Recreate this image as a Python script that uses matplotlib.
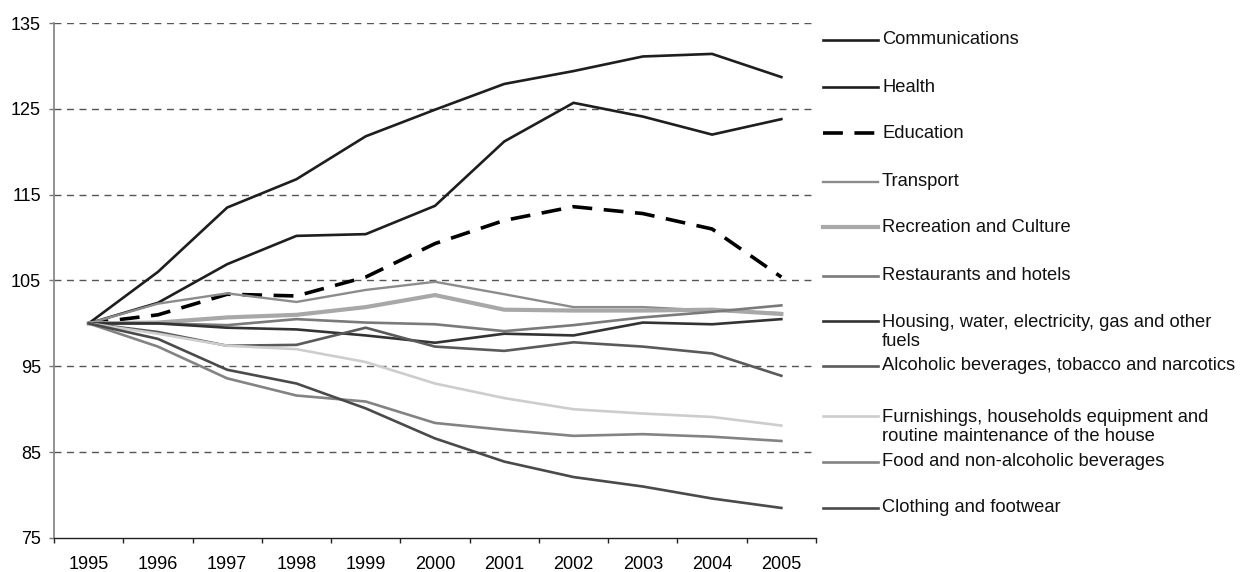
import matplotlib
matplotlib.use("Agg")
import matplotlib.pyplot as plt
from matplotlib.lines import Line2D

plt.rcParams['font.family'] = ['Liberation Sans', 'DejaVu Sans']

years = ['1995', '1996', '1997', '1998', '1999', '2000', '2001', '2002', '2003', '2004', '2005']

communications = [100, 106.0, 113.5, 116.8, 121.8, 124.9, 127.9, 129.4, 131.1, 131.4, 128.7]
health = [100, 102.4, 106.9, 110.2, 110.4, 113.7, 121.2, 125.7, 124.1, 122.0, 123.8]
education = [100, 101.0, 103.4, 103.2, 105.4, 109.3, 112.0, 113.6, 112.8, 111.0, 105.4]
transport = [100, 102.3, 103.5, 102.5, 103.9, 104.85, 103.4, 101.9, 101.9, 101.5, 101.2]
recreation = [100, 100.1, 100.7, 101.0, 101.9, 103.3, 101.6, 101.5, 101.5, 101.6, 101.1]
restaurants = [100, 100.0, 99.8, 100.5, 100.1, 99.9, 99.1, 99.8, 100.7, 101.35, 102.1]
housing = [100, 100.0, 99.5, 99.3, 98.6, 97.75, 98.8, 98.6, 100.1, 99.9, 100.5]
alcoholic = [100, 99.0, 97.4, 97.5, 99.5, 97.3, 96.8, 97.8, 97.3, 96.5, 93.9]
furnishings = [100, 98.8, 97.4, 97.0, 95.5, 93.0, 91.3, 90.0, 89.5, 89.1, 88.1]
food = [100, 97.3, 93.6, 91.6, 90.9, 88.4, 87.6, 86.9, 87.1, 86.8, 86.3]
clothing = [100, 98.2, 94.6, 93.0, 90.1, 86.6, 83.9, 82.1, 81.0, 79.6, 78.5]

labels = ['Communications', 'Health', 'Education', 'Transport', 'Recreation and Culture',
          'Restaurants and hotels', 'Housing, water, electricity, gas and other\nfuels',
          'Alcoholic beverages, tobacco and narcotics',
          'Furnishings, households equipment and\nroutine maintenance of the house',
          'Food and non-alcoholic beverages', 'Clothing and footwear']
series = [communications, health, education, transport, recreation, restaurants,
          housing, alcoholic, furnishings, food, clothing]
yticks = [75, 85, 95, 105, 115, 125, 135]

styles = [
    dict(color='#1e1e1e', lw=1.9),
    dict(color='#1e1e1e', lw=1.9),
    dict(color='#000000', lw=2.6, dashes=(5.5, 3.2)),
    dict(color='#8c8c8c', lw=1.7),
    dict(color='#a8a8a8', lw=3.0),
    dict(color='#7a7a7a', lw=1.9),
    dict(color='#333333', lw=1.9),
    dict(color='#5a5a5a', lw=1.9),
    dict(color='#cdcdcd', lw=1.9),
    dict(color='#838383', lw=1.9),
    dict(color='#4a4a4a', lw=1.9),
]

W, H = 1242, 572
fig = plt.figure(figsize=(W / 100, H / 100), dpi=100)
ax = fig.add_axes([54 / W, 1 - 538 / H, 762 / W, (538 - 23) / H])

x = list(range(len(years)))
for s, st in zip(series, styles):
    ax.plot(x, s, solid_joinstyle='miter', **st)

ax.set_xlim(-0.5, len(years) - 0.5)
ax.set_ylim(75, 135)
ax.set_yticks(yticks)
ax.set_yticklabels([str(v) for v in yticks], fontsize=13)
ax.set_xticks([i - 0.5 for i in range(len(years) + 1)])
ax.set_xticklabels([])
ax.set_xticks(x, minor=True)
ax.set_xticklabels(years, minor=True, fontsize=13)
ax.tick_params(axis='x', which='minor', length=0, pad=13)
ax.tick_params(axis='x', which='major', length=3.4, width=1, color='#222222')
ax.tick_params(axis='y', length=3.6, width=1, color='#777777', pad=5.8)

for v in yticks[1:]:
    ax.axhline(v, color='#555555', lw=1.0, dashes=(5, 4), zorder=0)

for side in ['top', 'right']:
    ax.spines[side].set_visible(False)
ax.spines['left'].set_color('#808080')
ax.spines['left'].set_linewidth(1.2)
ax.spines['bottom'].set_color('#222222')
ax.spines['bottom'].set_linewidth(1.0)

# manual legend (pixel positions of entries)
legend_y = [40, 87, 133, 182, 227, 276, 321, 366, 416, 462, 508]
for lab, st, yy in zip(labels, styles, legend_y):
    kw = dict(st)
    lw = kw.pop('lw')
    ln = Line2D([823 / W, 878 / W], [1 - yy / H, 1 - yy / H], transform=fig.transFigure,
                linewidth=lw, **kw)
    fig.add_artist(ln)
    nlines = lab.count('\n') + 1
    yc = yy + (nlines - 1) * 22 / 2
    fig.text(882 / W, 1 - yc / H, lab, fontsize=13.2, va='center', ha='left',
             color='#111111', linespacing=1.2)

fig.savefig('out.png', dpi=100)
